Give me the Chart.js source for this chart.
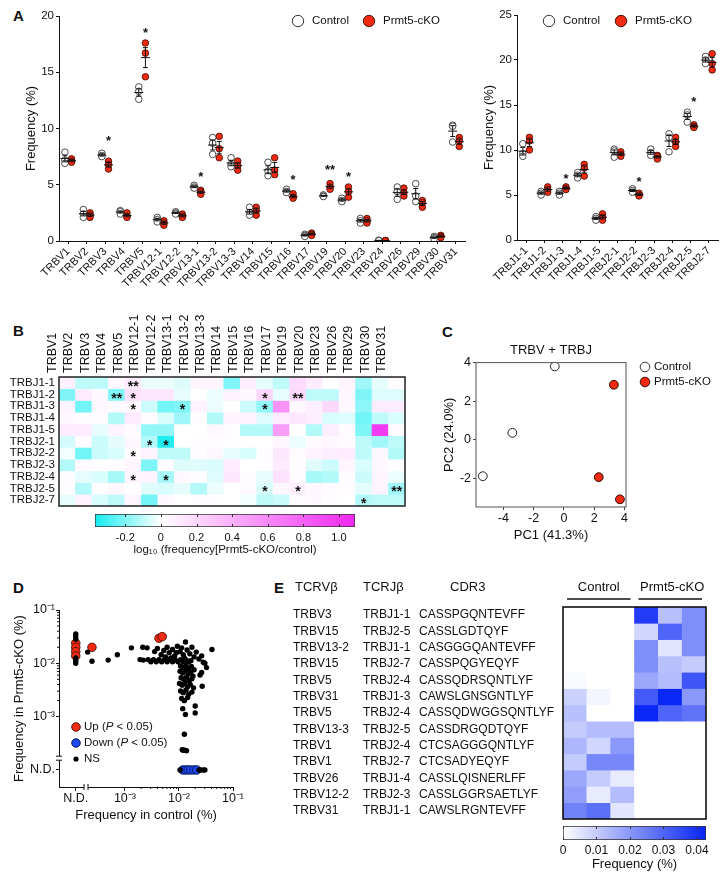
<!DOCTYPE html>
<html>
<head>
<meta charset="utf-8">
<title>TCR repertoire</title>
<script src="https://cdn.jsdelivr.net/npm/chart.js"></script>
<style>
  body { margin: 0; width: 723px; height: 881px; position: relative; overflow: hidden; background: #fff; }
  canvas { position: absolute; }
  .panel { position: absolute; font: bold 15px "Liberation Sans", Arial, sans-serif; line-height: 15px; color: #111; }
</style>
</head>
<body>
<div class="panel" style="left:13px;top:8px">A</div>
<div class="panel" style="left:13px;top:323px">B</div>
<div class="panel" style="left:442px;top:324px">C</div>
<div class="panel" style="left:13px;top:580px">D</div>
<div class="panel" style="left:274px;top:580px">E</div>
<script>
// ---------- panel A : V and J usage, 3 mice per group ----------
const vNames = ['TRBV1', 'TRBV2', 'TRBV3', 'TRBV4', 'TRBV5', 'TRBV12-1', 'TRBV12-2', 'TRBV13-1', 'TRBV13-2', 'TRBV13-3', 'TRBV14',
  'TRBV15', 'TRBV16', 'TRBV17', 'TRBV19', 'TRBV20', 'TRBV23', 'TRBV24', 'TRBV26', 'TRBV29', 'TRBV30', 'TRBV31'];
const vCtrl = [[7.9, 7.2, 6.9], [2.8, 2.4, 2.1], [7.8, 7.6, 7.5], [2.7, 2.6, 2.4], [13.7, 13.3, 12.6], [2.1, 1.9, 1.7],
  [2.6, 2.5, 2.4], [4.95, 4.8, 4.7], [9.2, 8.7, 7.7], [7.4, 6.8, 6.6], [3.0, 2.5, 2.3], [7.0, 6.2, 5.8], [4.6, 4.4, 4.3],
  [0.6, 0.5, 0.4], [4.1, 4.0, 3.95], [3.8, 3.6, 3.5], [2.0, 1.8, 1.6], [0.06, 0.05, 0.04], [4.8, 4.4, 3.7], [5.1, 4.0, 3.5],
  [0.4, 0.3, 0.2], [10.3, 10.2, 8.8]];
const vKO = [[7.3, 7.1, 7.0], [2.5, 2.3, 2.1], [7.1, 6.8, 6.4], [2.5, 2.2, 2.1], [17.6, 16.7, 14.6], [1.8, 1.6, 1.4],
  [2.4, 2.2, 2.1], [4.5, 4.35, 4.15], [9.3, 8.2, 7.4], [7.1, 6.7, 6.3], [3.0, 2.7, 2.3], [7.4, 6.3, 5.9], [4.2, 3.9, 3.8],
  [0.7, 0.6, 0.5], [5.1, 4.8, 4.6], [4.8, 4.4, 3.9], [2.0, 1.8, 1.6], [0.04, 0.03, 0.02], [4.7, 4.3, 4.0], [3.6, 3.4, 3.0],
  [0.5, 0.4, 0.3], [9.2, 8.9, 8.4]];
const vStars = [['TRBV3', '*', 9.2], ['TRBV5', '*', 18.8], ['TRBV13-1', '*', 6.0], ['TRBV16', '*', 5.7], ['TRBV19', '**', 6.6], ['TRBV20', '*', 6.0]];
const vTicks = [0, 5, 10, 15, 20];

const jNames = ['TRBJ1-1', 'TRBJ1-2', 'TRBJ1-3', 'TRBJ1-4', 'TRBJ1-5', 'TRBJ2-1', 'TRBJ2-2', 'TRBJ2-3', 'TRBJ2-4', 'TRBJ2-5', 'TRBJ2-7'];
const jCtrl = [[10.7, 9.6, 9.3], [5.4, 5.2, 5.0], [5.4, 5.2, 5.0], [7.5, 7.2, 6.9], [2.6, 2.4, 2.2], [10.1, 9.9, 9.2],
  [5.7, 5.5, 5.3], [10.1, 9.7, 9.4], [11.8, 11.4, 9.8], [14.2, 13.9, 13.1], [20.4, 20.0, 19.6]];
const jKO = [[11.4, 11.0, 10.0], [5.9, 5.6, 5.3], [5.9, 5.7, 5.6], [8.4, 8.0, 7.1], [2.9, 2.5, 2.2], [9.8, 9.5, 9.3],
  [5.2, 5.0, 4.9], [9.4, 9.3, 9.0], [11.4, 10.9, 10.4], [12.8, 12.6, 12.5], [20.7, 19.6, 18.9]];
const jStars = [['TRBJ1-3', '*', 7.2], ['TRBJ2-2', '*', 6.85], ['TRBJ2-5', '*', 15.7]];
const jTicks = [0, 5, 10, 15, 20, 25];

// ---------- panel B : log10 ratio per V-J pair ----------
const bCols = ['TRBV1', 'TRBV2', 'TRBV3', 'TRBV4', 'TRBV5', 'TRBV12-1', 'TRBV12-2', 'TRBV13-1', 'TRBV13-2', 'TRBV13-3', 'TRBV14',
  'TRBV15', 'TRBV16', 'TRBV17', 'TRBV19', 'TRBV20', 'TRBV23', 'TRBV26', 'TRBV29', 'TRBV30', 'TRBV31'];
const bRows = ['TRBJ1-1', 'TRBJ1-2', 'TRBJ1-3', 'TRBJ1-4', 'TRBJ1-5', 'TRBJ2-1', 'TRBJ2-2', 'TRBJ2-3', 'TRBJ2-4', 'TRBJ2-5', 'TRBJ2-7'];
const bLog = [
  [0.08, -0.1, -0.1, 0.04, 0.1, -0.03, -0.03, -0.05, 0.05, 0.05, -0.2, 0.08, -0.04, -0.1, 0.18, 0.1, 0.0, 0.05, -0.15, -0.04, 0.02],
  [-0.2, 0.1, 0.03, -0.2, 0.15, 0.12, 0.12, -0.04, 0.0, -0.03, 0.06, 0.04, 0.2, -0.04, 0.2, -0.1, -0.1, 0.04, -0.2, -0.05, -0.05],
  [0.06, -0.22, 0.04, 0.02, 0.04, -0.08, -0.22, -0.2, 0.06, -0.03, 0.0, -0.08, -0.17, 0.55, 0.03, 0.08, 0.2, 0.04, -0.18, 0.1, 0.1],
  [0.03, 0.01, 0.01, -0.12, 0.1, 0.02, -0.06, -0.15, 0.01, -0.12, 0.06, 0.06, -0.05, 0.1, 0.12, 0.08, -0.06, -0.05, -0.22, -0.1, -0.06],
  [0.1, 0.1, -0.04, 0.06, 0.02, -0.17, -0.17, 0, 0, 0.04, 0.01, -0.12, -0.12, 0.5, 0, -0.12, 0.08, 0.02, -0.2, 1.0, 0.02],
  [-0.07, 0.02, -0.08, -0.04, 0.04, -0.12, -0.35, 0, 0.01, 0.01, 0.01, 0, 0, 0.04, -0.03, 0.02, 0.04, 0.02, -0.1, -0.15, -0.1],
  [-0.02, -0.22, -0.08, -0.06, 0.02, 0.06, -0.1, -0.1, 0.01, 0.04, -0.04, -0.06, 0.01, 0.12, 0.02, 0.06, 0.08, 0.1, -0.1, 0.04, -0.12],
  [-0.12, 0.02, 0.01, 0.01, 0.05, -0.2, 0.01, -0.05, -0.05, -0.06, 0.1, 0, 0.01, 0.1, 0.01, -0.05, -0.08, 0.05, -0.06, 0.04, 0.01],
  [0.01, -0.04, -0.06, -0.14, 0.05, 0.06, -0.14, 0.03, 0.01, -0.05, 0.12, 0.01, -0.04, 0.14, 0.02, -0.14, -0.12, 0.01, -0.08, 0.05, -0.03],
  [0.01, -0.12, 0.01, 0.04, 0.01, -0.05, -0.06, -0.04, -0.12, -0.03, 0, 0.02, -0.06, 0.04, 0.08, 0.03, 0.02, 0.02, -0.04, 0.06, -0.15],
  [-0.04, 0.06, -0.06, -0.1, 0.05, -0.22, 0.03, 0, 0.01, 0.01, 0, -0.02, -0.1, -0.08, 0.02, 0.03, 0.01, 0, -0.12, -0.1, -0.1]
];
// [row, column, label]
const bStars = [[0, 4, '**'], [1, 3, '**'], [1, 4, '*'], [1, 12, '*'], [1, 14, '**'], [2, 4, '*'], [2, 7, '*'], [2, 12, '*'],
  [5, 5, '*'], [5, 6, '*'], [6, 4, '*'], [8, 4, '*'], [8, 6, '*'], [9, 12, '*'], [9, 14, '*'], [9, 20, '**'], [10, 18, '*']];
const bRange = [-0.37, 1.09];
const bTicks = [-0.2, 0, 0.2, 0.4, 0.6, 0.8, 1.0];

// ---------- panel C : PCA ----------
const cCtrlX = [-0.6, -3.4, -5.35];
const cCtrlY = [3.8, 0.35, -1.9];
const cKoX = [3.3, 2.3, 3.7];
const cKoY = [2.85, -1.95, -3.1];
const cXTicks = [-4, -2, 0, 2, 4];
const cYTicks = [-2, 0, 2, 4];

// ---------- panel D : clonotypes, log10 frequency ('ND' = not detected) ----------
const ND_X = -3.91;
const ND_Y = -4.0;
const dUp = [['ND', -1.62], ['ND', -1.70], ['ND', -1.78], ['ND', -1.86], [-3.61, -1.70], [-2.37, -1.53], [-2.31, -1.50]];
const dDown = [[-1.93, 'ND'], [-1.88, 'ND'], [-1.83, 'ND'], [-1.78, 'ND'], [-1.72, 'ND'], [-1.67, 'ND']];
const dNs = [
  ['ND', -1.45], ['ND', -1.5], ['ND', -1.55], ['ND', -1.9], ['ND', -1.95], ['ND', -2.0],
  [-3.69, -1.79], [-3.61, -1.96], [-3.31, -1.94], [-3.14, -1.84], [-2.88, -1.71], [-2.67, -1.70], [-2.59, -1.71], [-2.72, -1.93], [-2.66, -1.94],
  [-2.57, -1.93], [-2.52, -1.97], [-2.47, -1.93], [-2.42, -1.97], [-2.37, -1.93], [-2.32, -1.97], [-2.27, -1.93], [-2.22, -1.97],
  [-2.17, -1.93], [-2.12, -1.97], [-2.07, -1.93], [-2.02, -1.97], [-1.97, -1.93], [-1.92, -1.97], [-1.87, -1.93], [-1.82, -1.97],
  [-2.45, -1.78], [-2.40, -1.72], [-2.33, -1.84], [-2.28, -1.76], [-2.22, -1.70], [-2.18, -1.80], [-2.12, -1.74], [-2.08, -1.86],
  [-2.03, -1.68], [-1.98, -1.78], [-1.95, -1.71], [-1.92, -1.84], [-1.88, -1.60], [-1.85, -1.75], [-1.80, -1.82], [-1.76, -1.70],
  [-1.72, -1.88], [-1.68, -1.79], [-1.63, -1.92], [-1.58, -1.86], [-1.55, -1.98], [-2.25, -1.88], [-2.15, -1.90], [-2.05, -1.80],
  [-1.90, -1.90], [-1.78, -1.95],
  [-1.39, -1.74], [-1.49, -2.08], [-1.57, -2.43], [-1.61, -2.22], [-1.58, -2.17], [-1.52, -2.0],
  [-1.97, -2.05], [-1.92, -2.08], [-1.87, -2.04], [-1.82, -2.10], [-1.77, -2.06], [-1.72, -2.12],
  [-1.98, -2.15], [-1.93, -2.18], [-1.88, -2.14], [-1.83, -2.2], [-1.78, -2.17], [-1.74, -2.24],
  [-1.96, -2.27], [-1.91, -2.3], [-1.86, -2.26], [-1.81, -2.33], [-1.76, -2.29],
  [-1.99, -2.38], [-1.94, -2.41], [-1.89, -2.36], [-1.84, -2.44], [-1.79, -2.40], [-1.73, -2.46],
  [-1.97, -2.52], [-1.92, -2.55], [-1.87, -2.5], [-1.82, -2.58], [-1.76, -2.54],
  [-1.95, -2.66], [-1.90, -2.70], [-1.84, -2.64], [-1.70, -2.80], [-1.70, -2.93], [-1.88, -2.96], [-1.93, -2.85],
  [-1.90, -3.33], [-1.92, -3.63], [-1.89, -3.63], [-1.86, -3.64], [-1.94, -3.62],
  [-1.60, 'ND'], [-1.55, 'ND'], [-1.52, 'ND'], [-1.63, 'ND'], [-1.98, 'ND']
];
const dTickVals = [-3, -2, -1];
const dTickText = ['10⁻³', '10⁻²', '10⁻¹'];

// ---------- panel E : top clonotypes ----------
const eV = ['TRBV3', 'TRBV15', 'TRBV13-2', 'TRBV15', 'TRBV5', 'TRBV31', 'TRBV5', 'TRBV13-3', 'TRBV1', 'TRBV1', 'TRBV26', 'TRBV12-2', 'TRBV31'];
const eJ = ['TRBJ1-1', 'TRBJ2-5', 'TRBJ1-1', 'TRBJ2-7', 'TRBJ2-4', 'TRBJ1-3', 'TRBJ2-4', 'TRBJ2-5', 'TRBJ2-4', 'TRBJ2-7', 'TRBJ1-4', 'TRBJ2-3', 'TRBJ1-1'];
const eCdr3 = ['CASSPGQNTEVFF', 'CASSLGDTQYF', 'CASGGGQANTEVFF', 'CASSPQGYEQYF', 'CASSQDRSQNTLYF', 'CAWSLGNSGNTLYF', 'CASSQDWGGSQNTLYF',
  'CASSDRGQDTQYF', 'CTCSAGGGQNTLYF', 'CTCSADYEQYF', 'CASSLQISNERLFF', 'CASSLGGRSAETLYF', 'CAWSLRGNTEVFF'];
const eHeads = ['TCRVβ', 'TCRJβ', 'CDR3'];
const eGroups = ['Control', 'Prmt5-cKO'];
const eSamples = ['c1', 'c2', 'c3', 'k1', 'k2', 'k3'];
const eFreq = [
  [0, 0, 0, 0.038, 0.012, 0.022],
  [0, 0, 0, 0.008, 0.030, 0.022],
  [0, 0, 0, 0.022, 0.005, 0.022],
  [0, 0, 0, 0.022, 0.012, 0.010],
  [0.001, 0, 0, 0.017, 0.013, 0.033],
  [0.009, 0.002, 0, 0.032, 0.042, 0.020],
  [0.012, 0, 0, 0.042, 0.030, 0.027],
  [0.010, 0.013, 0.013, 0, 0, 0],
  [0.014, 0.008, 0.020, 0, 0, 0],
  [0.010, 0.023, 0.023, 0, 0, 0],
  [0.017, 0.010, 0.004, 0, 0, 0],
  [0.019, 0.004, 0.013, 0, 0, 0],
  [0.024, 0.028, 0.005, 0, 0, 0]
];
const eMax = 0.0427;
const eTicks = [0, 0.01, 0.02, 0.03, 0.04];

// ---------- common ----------
const FONT = '"Liberation Sans", Arial, Helvetica, sans-serif';
const INK = '#111';
const RED = '#f22a12';
const BLUE = '#1f47f2';
const OFF = 0.18;

Chart.defaults.font.family = FONT;
Chart.defaults.color = INK;
Chart.defaults.animation = false;
Chart.defaults.responsive = false;
Chart.defaults.plugins.legend.display = false;
Chart.defaults.plugins.tooltip.enabled = false;

function makeCanvas(left, top, w, h) {
  const c = document.createElement('canvas');
  c.width = w;
  c.height = h;
  c.style.left = left + 'px';
  c.style.top = top + 'px';
  document.body.appendChild(c);
  return c;
}

function mix(a, b, t) {
  t = Math.max(0, Math.min(1, t));
  return 'rgb(' + a.map((v, i) => Math.round(v + (b[i] - v) * t)).join(',') + ')';
}
const WHITE = [255, 255, 255], CYAN = [20, 236, 240], MAGENTA = [240, 40, 240], DEEPBLUE = [5, 35, 245];
function logColor(v) {
  return v < 0 ? mix(WHITE, CYAN, v / bRange[0]) : mix(WHITE, MAGENTA, v / bRange[1]);
}
function freqColor(v) {
  return mix(WHITE, DEEPBLUE, v / eMax);
}

function fixedTicks(vals) {
  return s => { s.ticks = vals.map(v => ({value: v})); };
}

function drawSegs(ctx, segs, x, y, size) {
  ctx.textBaseline = 'middle';
  ctx.textAlign = 'left';
  ctx.fillStyle = INK;
  segs.forEach(s => {
    ctx.font = (s.it ? 'italic ' : '') + size + 'px ' + FONT;
    ctx.fillText(s.t, x, y);
    x += ctx.measureText(s.t).width;
  });
}

function markerLegend(items) {
  return {
    id: 'markerLegend',
    afterDraw(chart) {
      const ctx = chart.ctx;
      ctx.save();
      items.forEach(it => {
        ctx.beginPath();
        ctx.arc(it.x, it.y, it.r, 0, Math.PI * 2);
        ctx.fillStyle = it.fill;
        ctx.fill();
        if (it.stroke) {
          ctx.lineWidth = 0.9;
          ctx.strokeStyle = it.stroke;
          ctx.stroke();
        }
        drawSegs(ctx, it.segs, it.tx, it.y, it.size);
      });
      ctx.restore();
    }
  };
}

function meanSem(groups) {
  return {
    id: 'meanSem',
    afterDatasetsDraw(chart) {
      const {ctx, scales: {x, y}} = chart;
      ctx.save();
      ctx.strokeStyle = INK;
      ctx.lineWidth = 1;
      groups.forEach(([vals, off]) => {
        vals.forEach((set, i) => {
          const n = set.length;
          const m = set.reduce((a, b) => a + b, 0) / n;
          const se = Math.sqrt(set.reduce((a, b) => a + (b - m) * (b - m), 0) / (n - 1)) / Math.sqrt(n);
          const px = x.getPixelForValue(i + off);
          const pm = y.getPixelForValue(m), p1 = y.getPixelForValue(m + se), p2 = y.getPixelForValue(m - se);
          ctx.beginPath();
          ctx.moveTo(px - 4.5, pm); ctx.lineTo(px + 4.5, pm);
          ctx.moveTo(px, p1); ctx.lineTo(px, p2);
          ctx.moveTo(px - 2.5, p1); ctx.lineTo(px + 2.5, p1);
          ctx.moveTo(px - 2.5, p2); ctx.lineTo(px + 2.5, p2);
          ctx.stroke();
        });
      });
      ctx.restore();
    }
  };
}

function starMarks(names, stars) {
  return {
    id: 'starMarks',
    afterDatasetsDraw(chart) {
      const {ctx, scales: {x, y}} = chart;
      ctx.save();
      ctx.font = 'bold 13px ' + FONT;
      ctx.textAlign = 'center';
      ctx.textBaseline = 'alphabetic';
      ctx.fillStyle = INK;
      stars.forEach(([n, t, v]) => ctx.fillText(t, x.getPixelForValue(names.indexOf(n) + OFF), y.getPixelForValue(v) + 7.5));
      ctx.restore();
    }
  };
}

function frame(color, w) {
  return {
    id: 'frame',
    afterDatasetsDraw(chart) {
      const {ctx, chartArea: a} = chart;
      ctx.save();
      ctx.strokeStyle = color;
      ctx.lineWidth = w;
      ctx.strokeRect(a.left, a.top, a.right - a.left, a.bottom - a.top);
      ctx.restore();
    }
  };
}

function freqChart(canvas, names, ctrl, ko, stars, ticks, geo, legend) {
  const pts = (arr, off) => arr.flatMap((set, i) => set.map(v => ({x: i + off, y: v})));
  return new Chart(canvas, {
    type: 'scatter',
    data: {
      datasets: [
        {label: 'Control', data: pts(ctrl, -OFF), pointRadius: 3.3, pointBackgroundColor: '#fff', pointBorderColor: '#222', pointBorderWidth: 0.8},
        {label: 'Prmt5-cKO', data: pts(ko, OFF), pointRadius: 3.3, pointBackgroundColor: RED, pointBorderColor: '#3a0a00', pointBorderWidth: 0.8}
      ]
    },
    options: {
      layout: {padding: geo.pad},
      scales: {
        x: {
          type: 'linear', min: -0.5, max: names.length - 0.5,
          afterBuildTicks: fixedTicks(names.map((n, i) => i)),
          afterFit: s => { s.height = geo.xh; },
          ticks: {autoSkip: false, minRotation: 45, maxRotation: 45, padding: 1, font: {size: 11}, callback: v => names[v]},
          grid: {drawOnChartArea: false, tickLength: 3, color: INK},
          border: {color: INK}
        },
        y: {
          min: 0, max: ticks[ticks.length - 1],
          afterBuildTicks: fixedTicks(ticks),
          afterFit: s => { s.width = geo.yw; },
          ticks: {padding: 2, font: {size: 11.5}},
          grid: {drawOnChartArea: false, tickLength: 3, color: INK},
          border: {color: INK},
          title: {display: true, text: 'Frequency (%)', font: {size: 13}, padding: {top: geo.tp, bottom: 0}}
        }
      }
    },
    plugins: [meanSem([[ctrl, -OFF], [ko, OFF]]), starMarks(names, stars), markerLegend(legend)]
  });
}

function legendPair(x1, x2, y) {
  return [
    {x: x1, y: y, r: 5.7, fill: '#fff', stroke: '#222', tx: x1 + 14, size: 11.5, segs: [{t: 'Control'}]},
    {x: x2, y: y, r: 5.7, fill: RED, stroke: '#3a0a00', tx: x2 + 14, size: 11.5, segs: [{t: 'Prmt5-cKO'}]}
  ];
}

// A, left and right
freqChart(makeCanvas(0, 0, 470, 290), vNames, vCtrl, vKO, vStars, vTicks,
  {pad: {left: 0, right: 3, top: 16, bottom: 0}, xh: 49, yw: 59, tp: 24}, legendPair(298, 369, 21));
freqChart(makeCanvas(470, 0, 253, 290), jNames, jCtrl, jKO, jStars, jTicks,
  {pad: {left: 0, right: 5, top: 15, bottom: 0}, xh: 50, yw: 47, tp: 12}, legendPair(79, 151, 21));

// ---------- heatmap helpers ----------
function heatSets(rows, cols, vals, colorFn) {
  return rows.map((r, ri) => ({
    label: r,
    data: cols.map(() => [ri, ri + 1]),
    backgroundColor: vals[ri].map(colorFn),
    grouped: false, barPercentage: 1, categoryPercentage: 1, borderWidth: 0
  }));
}

function colorBar(canvas, range, ticks, stopsFn, fmt, geo, title) {
  return new Chart(canvas, {
    type: 'bar',
    data: {
      labels: [''],
      datasets: [{
        data: [range],
        backgroundColor: c => {
          const ch = c.chart, a = ch.chartArea;
          if (!a) return '#fff';
          const g = ch.ctx.createLinearGradient(a.left, 0, a.right, 0);
          const xs = ch.scales.x;
          stopsFn().forEach(([v, col]) => g.addColorStop(Math.max(0, Math.min(1, (xs.getPixelForValue(v) - a.left) / (a.right - a.left))), col));
          return g;
        },
        borderColor: '#333', borderWidth: 1, borderSkipped: false, barPercentage: 1, categoryPercentage: 1
      }]
    },
    options: {
      indexAxis: 'y',
      layout: {padding: geo.pad},
      scales: {
        y: {display: false},
        x: {
          min: range[0], max: range[1],
          afterBuildTicks: fixedTicks(ticks),
          afterFit: s => { s.height = geo.xh; },
          ticks: {padding: geo.tpad, font: {size: geo.fs}, callback: fmt},
          grid: {display: false, drawTicks: false},
          border: {display: false},
          title: {display: true, text: title, font: {size: geo.ts}, padding: {top: 0, bottom: geo.tb}}
        }
      }
    },
    plugins: [{
      id: 'innerTicks',
      afterDatasetsDraw(chart) {
        const {ctx, chartArea: a, scales: {x}} = chart;
        ctx.save();
        ctx.strokeStyle = '#333';
        ctx.lineWidth = 1;
        ctx.beginPath();
        ticks.forEach(v => {
          const px = Math.round(x.getPixelForValue(v)) + 0.5;
          ctx.moveTo(px, a.top); ctx.lineTo(px, a.top + 3);
          ctx.moveTo(px, a.bottom); ctx.lineTo(px, a.bottom - 3);
        });
        ctx.stroke();
        ctx.restore();
      }
    }]
  });
}

// B heatmap
new Chart(makeCanvas(0, 290, 420, 230), {
  type: 'bar',
  data: {labels: bCols, datasets: heatSets(bRows, bCols, bLog, logColor)},
  options: {
    layout: {padding: {left: 0, right: 15, top: 0, bottom: 14}},
    scales: {
      x: {
        position: 'top',
        afterFit: s => { s.height = 87; },
        ticks: {autoSkip: false, minRotation: 90, maxRotation: 90, padding: 4, font: {size: 12.5}},
        grid: {display: false, drawTicks: false},
        border: {display: false}
      },
      y: {
        min: 0, max: bRows.length, reverse: true,
        afterBuildTicks: fixedTicks(bRows.map((r, i) => i + 0.5)),
        afterFit: s => { s.width = 59; },
        ticks: {autoSkip: false, padding: 4, font: {size: 11.5}, callback: v => bRows[Math.floor(v)]},
        grid: {display: false, drawTicks: false},
        border: {display: false}
      }
    }
  },
  plugins: [frame('#222', 1.5), {
    id: 'bStars',
    afterDatasetsDraw(chart) {
      const {ctx, scales: {x, y}} = chart;
      ctx.save();
      ctx.font = 'bold 14px ' + FONT;
      ctx.textAlign = 'center';
      ctx.textBaseline = 'alphabetic';
      ctx.fillStyle = INK;
      bStars.forEach(([r, c, t]) => ctx.fillText(t, x.getPixelForValue(c), y.getPixelForValue(r + 0.5) + 8));
      ctx.restore();
    }
  }]
});

colorBar(makeCanvas(80, 505, 300, 55), bRange, bTicks,
  () => [[bRange[0], logColor(bRange[0])], [0, logColor(0)], [bRange[1], logColor(bRange[1])]],
  v => (v === 0 ? '0' : v.toFixed(1)),
  {pad: {left: 15, right: 25, top: 9, bottom: 0}, xh: 33, tpad: 4, fs: 11, ts: 11.5, tb: 3},
  'log₁₀ (frequency[Prmt5-cKO/control)');

// C PCA
new Chart(makeCanvas(420, 300, 303, 250), {
  type: 'scatter',
  data: {
    datasets: [
      {label: 'Control', data: cCtrlX.map((x, i) => ({x: x, y: cCtrlY[i]})), pointRadius: 4.4, pointBackgroundColor: '#fff', pointBorderColor: '#222', pointBorderWidth: 1},
      {label: 'Prmt5-cKO', data: cKoX.map((x, i) => ({x: x, y: cKoY[i]})), pointRadius: 4.4, pointBackgroundColor: RED, pointBorderColor: '#2a0800', pointBorderWidth: 1}
    ]
  },
  options: {
    layout: {padding: {left: 0, right: 97, top: 43, bottom: 3}},
    plugins: {title: {display: true, text: 'TRBV + TRBJ', fullSize: false, color: INK, font: {size: 13, weight: 'normal'}, padding: {top: 0, bottom: 4}}},
    scales: {
      x: {
        min: -5.8, max: 4.1,
        afterBuildTicks: fixedTicks(cXTicks),
        afterFit: s => { s.height = 40; },
        ticks: {padding: 1, font: {size: 12.5}},
        grid: {drawOnChartArea: false, tickLength: 3, color: '#444'},
        border: {display: false},
        title: {display: true, text: 'PC1 (41.3%)', font: {size: 13}, padding: {top: 0, bottom: 4}}
      },
      y: {
        min: -3.5, max: 4,
        afterBuildTicks: fixedTicks(cYTicks),
        afterFit: s => { s.width = 56; },
        ticks: {padding: 2, font: {size: 12.5}},
        grid: {drawOnChartArea: false, tickLength: 3, color: '#444'},
        border: {display: false},
        title: {display: true, text: 'PC2 (24.0%)', font: {size: 13}, padding: {top: 22, bottom: 0}}
      }
    }
  },
  plugins: [frame('#555', 1), markerLegend([
    {x: 225, y: 67, r: 4.8, fill: '#fff', stroke: '#222', tx: 234, size: 11.5, segs: [{t: 'Control'}]},
    {x: 225, y: 82, r: 4.8, fill: RED, stroke: '#2a0800', tx: 234, size: 11.5, segs: [{t: 'Prmt5-cKO'}]}
  ])]
});

// D clonotype scatter
const lgPos = (pairs) => pairs.map(([x, y]) => ({x: x === 'ND' ? ND_X : x, y: y === 'ND' ? ND_Y : y}));
new Chart(makeCanvas(0, 570, 250, 270), {
  type: 'scatter',
  data: {
    datasets: [
      {label: 'NS', data: lgPos(dNs), pointRadius: 2.7, pointBackgroundColor: '#000', pointBorderWidth: 0},
      {label: 'Up', data: lgPos(dUp), pointRadius: 4.3, pointBackgroundColor: RED, pointBorderColor: '#3a0a00', pointBorderWidth: 0.8},
      {label: 'Down', data: lgPos(dDown), pointRadius: 4.3, pointBackgroundColor: BLUE, pointBorderColor: '#001040', pointBorderWidth: 0.8}
    ]
  },
  options: {
    layout: {padding: {left: 0, right: 17, top: 40, bottom: 0}},
    scales: {
      x: {
        min: -4.22, max: -1,
        afterBuildTicks: fixedTicks([ND_X].concat(dTickVals)),
        afterFit: s => { s.height = 53; },
        ticks: {padding: 0, font: {size: 12.5}, callback: v => (v === ND_X ? 'N.D.' : dTickText[dTickVals.indexOf(v)])},
        grid: {drawOnChartArea: false, tickLength: 4, color: INK},
        border: {color: INK},
        title: {display: true, text: 'Frequency in control (%)', font: {size: 13}, padding: {top: 0, bottom: 17}}
      },
      y: {
        min: -4.32, max: -1,
        afterBuildTicks: fixedTicks([ND_Y].concat(dTickVals)),
        afterFit: s => { s.width = 59; },
        ticks: {padding: 1, font: {size: 12.5}, callback: v => (v === ND_Y ? 'N.D.' : dTickText[dTickVals.indexOf(v)])},
        grid: {drawOnChartArea: false, tickLength: 3, color: INK},
        border: {color: INK},
        title: {display: true, text: 'Frequency in Prmt5-cKO (%)', font: {size: 13}, padding: {top: 12, bottom: 0}}
      }
    }
  },
  plugins: [{
    id: 'logExtras',
    afterDraw(chart) {
      const {ctx, chartArea: a, scales: {x, y}} = chart;
      ctx.save();
      ctx.strokeStyle = INK;
      ctx.lineWidth = 1;
      ctx.beginPath();
      [-3, -2].forEach(d => {
        for (let k = 2; k < 10; k++) {
          const v = d + Math.log10(k);
          const px = x.getPixelForValue(v), py = y.getPixelForValue(v);
          ctx.moveTo(px, a.bottom); ctx.lineTo(px, a.bottom + 2);
          ctx.moveTo(a.left, py); ctx.lineTo(a.left - 2, py);
        }
      });
      ctx.stroke();
      const by = y.getPixelForValue(-3.78), bx = x.getPixelForValue(-3.72);
      ctx.fillStyle = '#fff';
      ctx.fillRect(a.left - 2, by - 2, 4, 4);
      ctx.fillRect(bx - 2, a.bottom - 2, 4, 4);
      ctx.beginPath();
      ctx.moveTo(a.left - 3, by - 2); ctx.lineTo(a.left + 3, by - 2);
      ctx.moveTo(a.left - 3, by + 2); ctx.lineTo(a.left + 3, by + 2);
      ctx.moveTo(bx - 2, a.bottom - 3); ctx.lineTo(bx - 2, a.bottom + 3);
      ctx.moveTo(bx + 2, a.bottom - 3); ctx.lineTo(bx + 2, a.bottom + 3);
      ctx.stroke();
      ctx.restore();
    }
  }, markerLegend([
    {x: 76, y: 157, r: 4.3, fill: RED, stroke: '#3a0a00', tx: 84, size: 11.5, segs: [{t: 'Up ('}, {t: 'P', it: true}, {t: ' < 0.05)'}]},
    {x: 76, y: 173, r: 4.3, fill: BLUE, stroke: '#001040', tx: 84, size: 11.5, segs: [{t: 'Down ('}, {t: 'P', it: true}, {t: ' < 0.05)'}]},
    {x: 76, y: 189, r: 2.6, fill: '#000', tx: 84, size: 11.5, segs: [{t: 'NS'}]}
  ])]
});

// E clonotype heatmap with its table
new Chart(makeCanvas(260, 575, 463, 250), {
  type: 'bar',
  data: {labels: eSamples, datasets: heatSets(eV, eSamples, eFreq, freqColor)},
  options: {
    layout: {padding: {left: 303, right: 17, top: 32, bottom: 6}},
    scales: {
      x: {display: false},
      y: {display: false, min: 0, max: eV.length, reverse: true}
    }
  },
  plugins: [frame('#111', 1.6), {
    id: 'eTable',
    afterDraw(chart) {
      const {ctx, chartArea: a, scales: {x, y}} = chart;
      ctx.save();
      ctx.fillStyle = INK;
      ctx.textBaseline = 'middle';
      ctx.textAlign = 'left';
      ctx.font = '12px ' + FONT;
      eV.forEach((v, r) => {
        const py = y.getPixelForValue(r + 0.5);
        ctx.fillText(v, 33, py);
        ctx.fillText(eJ[r], 103, py);
        ctx.fillText(eCdr3[r], 159, py);
      });
      ctx.font = '13px ' + FONT;
      [35, 103, 190].forEach((px, i) => ctx.fillText(eHeads[i], px, 12));
      ctx.textAlign = 'center';
      const half = (a.right - a.left) / eSamples.length / 2;
      ctx.strokeStyle = INK;
      ctx.lineWidth = 1.6;
      eGroups.forEach((g, gi) => {
        const l = x.getPixelForValue(gi * 3) - half, r = x.getPixelForValue(gi * 3 + 2) + half;
        ctx.fillText(g, (l + r) / 2 + gi * 2, 12);
        ctx.beginPath();
        ctx.moveTo(l + 4, 24);
        ctx.lineTo(r - 4, 24);
        ctx.stroke();
      });
      ctx.restore();
    }
  }]
});

colorBar(makeCanvas(550, 820, 173, 61), [0, eMax], eTicks,
  () => [[0, freqColor(0)], [eMax, freqColor(eMax)]],
  v => (v === 0 ? '0' : v.toFixed(2)),
  {pad: {left: 13, right: 17, top: 6, bottom: 0}, xh: 41, tpad: 3, fs: 12, ts: 13, tb: 9},
  'Frequency (%)');
</script>
</body>
</html>
